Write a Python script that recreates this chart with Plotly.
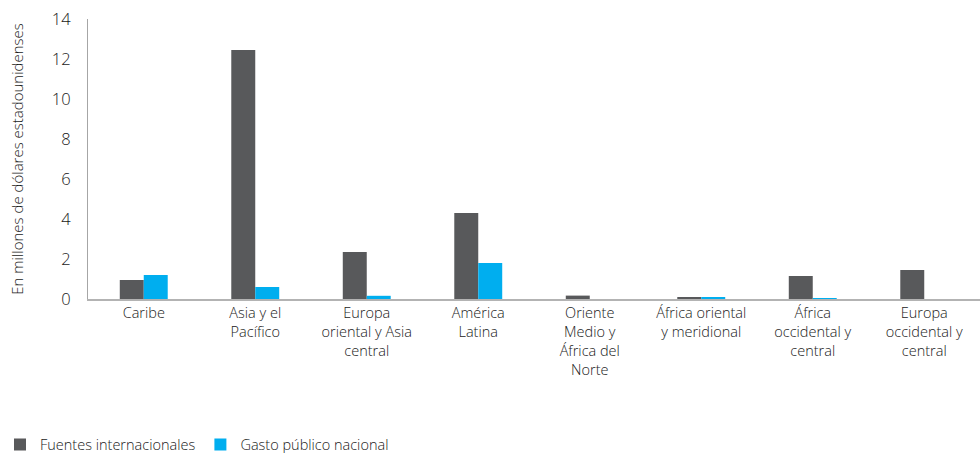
import plotly.graph_objects as go

categories = [
    "Caribe",
    "Asia y el<br>Pacífico",
    "Europa<br>oriental y Asia<br>central",
    "América<br>Latina",
    "Oriente<br>Medio y<br>África del<br>Norte",
    "África oriental<br>y meridional",
    "África<br>occidental y<br>central",
    "Europa<br>occidental y<br>central",
]
fuentes_internacionales = [0.95, 12.45, 2.35, 4.3, 0.17, 0.07, 1.15, 1.45]
gasto_publico_nacional = [1.2, 0.6, 0.16, 1.8, 0.0, 0.08, 0.03, 0.0]

font_family = "'Open Sans', 'Noto Sans', sans-serif"
text_color = "#1a1a1a"

fig = go.Figure()

fig.add_trace(go.Bar(
    x=categories,
    y=fuentes_internacionales,
    name="Fuentes internacionales",
    marker=dict(color="#58595b", line=dict(width=0)),
))

fig.add_trace(go.Bar(
    x=categories,
    y=gasto_publico_nacional,
    name="Gasto público nacional",
    marker=dict(color="#00aeef", line=dict(width=0)),
))

fig.update_layout(
    width=980,
    height=456,
    margin=dict(l=88, r=0, t=19, b=157),
    plot_bgcolor="white",
    paper_bgcolor="white",
    barmode="group",
    bargap=0.57,
    bargroupgap=0,
    font=dict(family=font_family, color=text_color, size=14, weight=300),
    xaxis=dict(
        showline=True,
        linecolor="#b3b3b3",
        linewidth=2,
        ticks="",
        tickfont=dict(size=14.5, weight=300),
        showgrid=False,
        automargin=False,
    ),
    yaxis=dict(
        range=[0, 14],
        dtick=2,
        showline=True,
        linecolor="#a6a6a6",
        linewidth=1,
        showgrid=False,
        zeroline=False,
        ticks="",
        ticklabelstandoff=13,
        tickfont=dict(size=16.5, weight=300),
        automargin=False,
        title=dict(text="En millones de dólares estadounidenses",
                   font=dict(size=15, weight=300), standoff=24),
    ),
    legend=dict(
        orientation="h",
        xref="container",
        yref="container",
        x=0.0,
        y=0.025,
        xanchor="left",
        yanchor="middle",
        font=dict(size=14.5, weight=300),
        itemwidth=30,
    ),
)

# the page body has a default margin; remove it so the figure sits at 0,0
fig.write_html(
    "out.html",
    config={"displayModeBar": False},
    post_script="document.body.style.margin='0';document.body.style.overflow='hidden';",
)
